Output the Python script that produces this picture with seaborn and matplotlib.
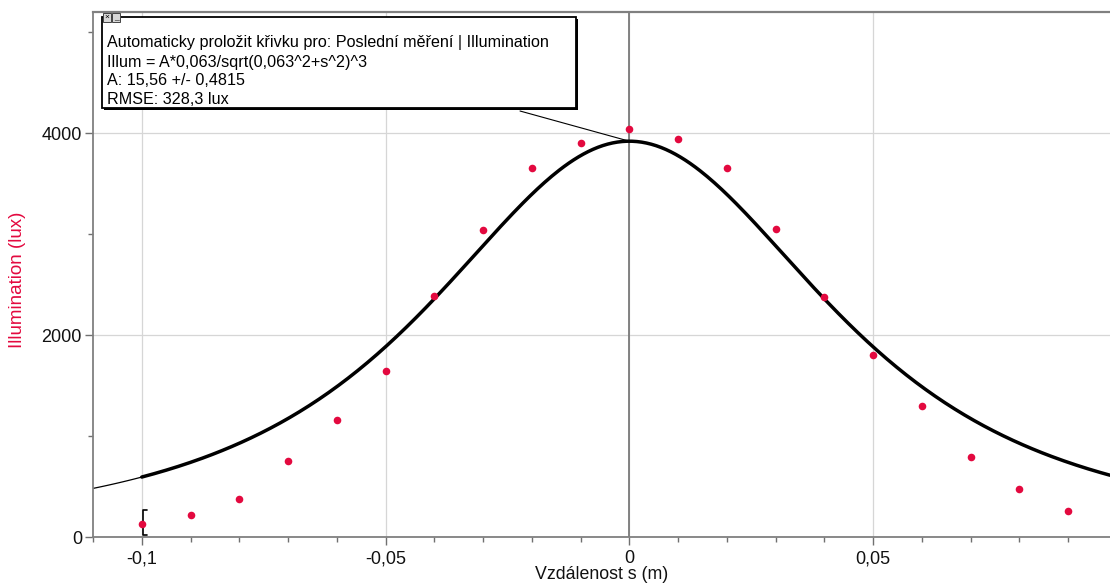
import numpy as np
import pandas as pd
import matplotlib
matplotlib.use("Agg")
import matplotlib.pyplot as plt
from matplotlib.patches import Rectangle, ConnectionPatch
from matplotlib.ticker import FixedLocator, MultipleLocator
import seaborn as sns

# Measured illumination along the track
distance_m = [-0.10, -0.09, -0.08, -0.07, -0.06, -0.05, -0.04, -0.03, -0.02, -0.01,
              0.00, 0.01, 0.02, 0.03, 0.04, 0.05, 0.06, 0.07, 0.08, 0.09]
illum_lux = [130, 220, 380, 750, 1160, 1640, 2385, 3040, 3650, 3900,
             4040, 3940, 3650, 3050, 2375, 1800, 1300, 790, 475, 255]

# Fit model: Illum = A*h/sqrt(h^2+s^2)^3
fit_A = 15.56
fit_h = 0.063

x_ticks = [-0.1, -0.05, 0.0, 0.05]
x_tick_labels = ["-0,1", "-0,05", "0", "0,05"]
y_ticks = [0, 2000, 4000]
y_tick_labels = ["0", "2000", "4000"]

fit_lines = [
    "Automaticky proložit křivku pro: Poslední měření | Illumination",
    "Illum = A*0,063/sqrt(0,063^2+s^2)^3",
    "A: 15,56 +/- 0,4815",
    "RMSE: 328,3 lux",
]

W, H = 1110, 586
RED = "#E3093F"

sns.set_style("white")
plt.rcParams["font.family"] = ["Liberation Sans", "DejaVu Sans"]

fig = plt.figure(figsize=(W / 100, H / 100), dpi=100)
fig.patch.set_facecolor("white")


def px(x, y):
    return (x / W, 1 - y / H)


ax = fig.add_axes([93 / W, 1 - 537 / H, (W - 93) / W, (537 - 12) / H])
xmin, xmax = -0.110, 0.0986
ax.set_xlim(xmin, xmax)
ax.set_ylim(0, 5200)


def model(s):
    return fit_A * fit_h / np.sqrt(fit_h ** 2 + s ** 2) ** 3


# fit curve: bold across the fitted range, thin where extrapolated
fit_lo = min(distance_m)
s_in = np.linspace(fit_lo, xmax, 400)
s_out = np.linspace(xmin, fit_lo, 60)
sns.lineplot(x=s_out, y=model(s_out), color="black", lw=0.9, ax=ax)
sns.lineplot(x=s_in, y=model(s_in), color="black", lw=2.5, ax=ax)

df = pd.DataFrame({"s": distance_m, "lux": illum_lux})
sns.scatterplot(data=df, x="s", y="lux", color=RED, s=30, linewidth=0, ax=ax, zorder=5)

# fit-range bracket
bx = fit_lo + 0.0002
ax.plot([bx + 0.0009, bx, bx, bx + 0.0009], [265, 265, 20, 20], color="black", lw=1.2)

# grid and zero line
ax.xaxis.set_major_locator(FixedLocator(x_ticks))
ax.xaxis.set_minor_locator(MultipleLocator(0.01))
ax.yaxis.set_major_locator(FixedLocator(y_ticks))
ax.yaxis.set_minor_locator(MultipleLocator(1000))
ax.set_xticklabels(x_tick_labels)
ax.set_yticklabels(y_tick_labels)
ax.grid(True, which="major", color="#d6d6d6", lw=0.9)
ax.axvline(0, color="#7a7a7a", lw=1.3, zorder=1)

for side in ["left", "bottom"]:
    ax.spines[side].set_color("#808080")
    ax.spines[side].set_linewidth(1.3)
ax.spines["top"].set_color("#808080")
ax.spines["top"].set_linewidth(1.6)
ax.spines["right"].set_visible(False)

ax.tick_params(which="major", direction="out", length=6, width=1, color="#707070",
               labelsize=13, labelcolor="#111111")
ax.tick_params(axis="x", which="major", pad=3.5)
ax.tick_params(axis="y", which="major", pad=2)
ax.tick_params(which="minor", direction="out", length=3.5, width=1, color="#707070")
ax.tick_params(axis="x", which="both", bottom=True)
ax.tick_params(axis="y", which="both", left=True)

ax.set_xlabel("Vzdálenost s (m)", fontsize=12.8, color="#111111")
ax.xaxis.set_label_coords(0.5, (537 - 566) / 525)
ax.set_ylabel("Illumination (lux)", fontsize=13.5, color=RED)
ax.yaxis.set_label_coords(-0.066, 0.49)

# fit info box with leader line to the curve peak
con = ConnectionPatch(xyA=(0, model(0.0)), coordsA=ax.transData,
                      xyB=px(520, 111), coordsB=fig.transFigure,
                      color="black", lw=0.8, zorder=6)
fig.add_artist(con)

bl, bt, br, bb = 102, 17, 576, 108
fig.add_artist(Rectangle(px(bl + 2, bb + 2), (br - bl) / W, (bb - bt) / H,
                         transform=fig.transFigure, facecolor="black", edgecolor="none", zorder=7))
fig.add_artist(Rectangle(px(bl, bb), (br - bl) / W, (bb - bt) / H,
                         transform=fig.transFigure, facecolor="white", edgecolor="black",
                         lw=1.3, zorder=8))
for i, glyph in enumerate(["×", "_"]):
    x0 = 103 + i * 9
    fig.add_artist(Rectangle(px(x0, 22), 8 / W, 9 / H, transform=fig.transFigure,
                             facecolor="#d8d8d8", edgecolor="#444444", lw=0.7, zorder=9))
    fig.text(*px(x0 + 4, 17.5), glyph, fontsize=6, ha="center", va="center",
             color="black", zorder=10)

for i, line in enumerate(fit_lines):
    fig.text(*px(107, 43 + i * 19), line, fontsize=11.6, ha="left", va="center",
             color="black", zorder=10)

fig.savefig("out.png", dpi=100, facecolor="white")
